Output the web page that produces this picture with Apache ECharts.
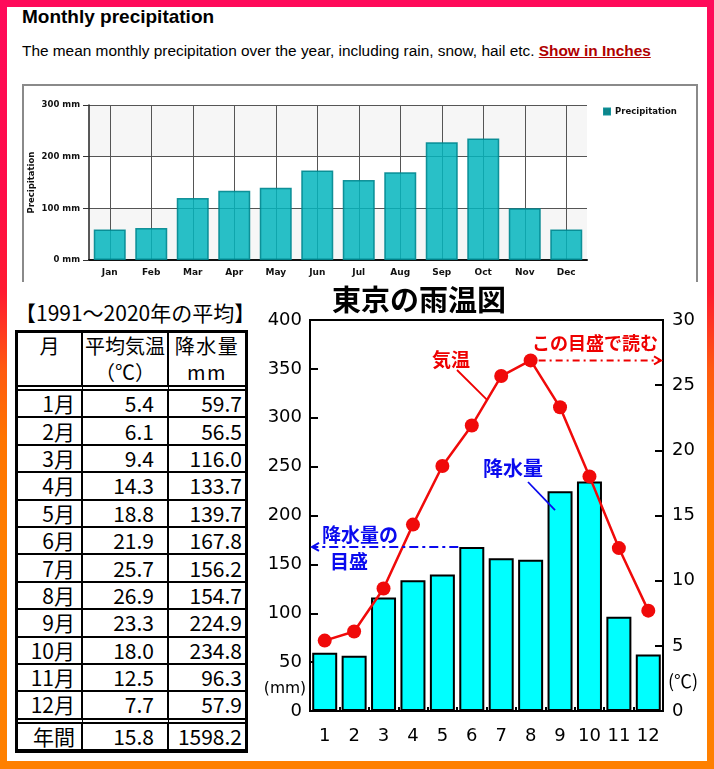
<!DOCTYPE html>
<html><head><meta charset="utf-8">
<script src="https://cdn.jsdelivr.net/npm/echarts@6/dist/echarts.min.js"></script>
<style>
html,body{margin:0;padding:0;}
body{width:714px;height:769px;position:relative;overflow:hidden;
 background:linear-gradient(180deg,#ff0a5a 0%,#ff0c48 25%,#ff1a30 38%,#ff5a10 48%,#ff7400 57%,#ff7d00 70%,#ff8000 100%);}
#inner{position:absolute;left:7px;top:7px;width:700px;height:754px;background:#fff;}
#h1{position:absolute;left:22px;top:6px;font:bold 19px 'Liberation Sans',Arial,sans-serif;color:#000;white-space:nowrap;}
#sub{position:absolute;left:22px;top:42px;font:15.4px 'Liberation Sans',Arial,sans-serif;color:#000;white-space:nowrap;}
#sub a{color:#b00000;font-weight:bold;text-decoration:underline;}
#c1{position:absolute;left:22px;top:84px;width:676px;height:196px;}
#frame{position:absolute;left:22px;top:84px;width:672px;height:196px;border:2px solid #8a8a8a;border-bottom:none;pointer-events:none;}
#c2{position:absolute;left:255px;top:285px;width:452px;height:476px;}
#cap{position:absolute;left:15px;top:300px;font:21px 'Noto Sans CJK JP',sans-serif;line-height:25px;color:#000;white-space:nowrap;}
#tbl{position:absolute;left:15px;top:330px;border:3px solid #000;border-bottom-width:4px;border-collapse:separate;border-spacing:0;font-family:'Noto Sans CJK JP',sans-serif;color:#000;}
#tbl td{box-sizing:border-box;padding:0;border-right:2px solid #000;border-bottom:2px solid #000;height:27.4px;line-height:25px;font-size:21px;text-align:right;vertical-align:middle;white-space:nowrap;overflow:hidden;}
#tbl td.k1{width:65px;padding-right:6px;}
#tbl td.k2{width:86px;padding-right:13px;}
#tbl td.k3{width:76px;padding-right:3px;border-right:none;}
#tbl tr.hd td{height:57px;border-bottom:6px double #000;text-align:center;vertical-align:top;line-height:26px;font-size:20px;padding:0;}
#tbl tr.last td{height:31.4px;border-bottom:6px double #000;}
#tbl tr.tot td{height:25px;border-bottom:none;}
</style>
</head><body>
<div id="inner"></div>
<div id="h1">Monthly precipitation</div>
<div id="sub">The mean monthly precipitation over the year, including rain, snow, hail etc. <a>Show in Inches</a></div>
<div id="c1"></div>
<div id="frame"></div>
<div id="cap">【1991～2020年の平均】</div>
<table id="tbl"></table>
<div id="c2"></div>
<script>
// ---- data ----
const monthsEn = ['Jan','Feb','Mar','Apr','May','Jun','Jul','Aug','Sep','Oct','Nov','Dec'];
const topPrecip = [59, 62, 120, 134, 140, 173, 155, 170, 228, 235, 100, 59];
const monthNums = ['1','2','3','4','5','6','7','8','9','10','11','12'];
const tempC = [5.4, 6.1, 9.4, 14.3, 18.8, 21.9, 25.7, 26.9, 23.3, 18.0, 12.5, 7.7];
const precipMm = [59.7, 56.5, 116.0, 133.7, 139.7, 167.8, 156.2, 154.7, 224.9, 234.8, 96.3, 57.9];
const annualTemp = 15.8;
const annualPrecip = 1598.2;
const tableHead = ['月', '平均気温<br>（℃）', '降水量<br>mm'];

// ---- table ----
(function(){
  let h = '<tr class="hd"><td class="k1">'+tableHead[0]+'</td><td class="k2">'+tableHead[1]+'</td><td class="k3" style="letter-spacing:1.5px">'+tableHead[2]+'</td></tr>';
  for (let i = 0; i < 12; i++) {
    h += '<tr'+(i===11?' class="last"':'')+'><td class="k1">'+(i+1)+'月</td><td class="k2">'+tempC[i].toFixed(1)+'</td><td class="k3">'+precipMm[i].toFixed(1)+'</td></tr>';
  }
  h += '<tr class="tot"><td class="k1">年間</td><td class="k2">'+annualTemp.toFixed(1)+'</td><td class="k3">'+annualPrecip.toFixed(1)+'</td></tr>';
  document.getElementById('tbl').innerHTML = h;
})();

// ---- top chart ----
const small = {fontFamily:'DejaVu Sans', fontWeight:'bold', fontSize:8.5, color:'#111'};
const c1 = echarts.init(document.getElementById('c1'));
c1.setOption({
  animation:false,
  grid:{left:67, top:21, width:498, height:155, outerBoundsMode:'none', containLabel:false},
  legend:{left:581, top:23, padding:0, itemWidth:6, itemHeight:6, icon:'rect', itemGap:4,
    textStyle:Object.assign({}, small, {fontSize:8.5}),
    data:[{name:'Precipitation', itemStyle:{color:'#148589'}}]},
  graphic:[{type:'text', x:10, y:98.5, rotation:Math.PI/2,
    style:{text:'Precipitation', fontFamily:'DejaVu Sans', fontWeight:'bold', fontSize:8.5, fill:'#111', align:'center', verticalAlign:'middle'}}],
  xAxis:{type:'category', data:monthsEn,
    axisLine:{lineStyle:{color:'#111', width:2}},
    axisTick:{alignWithLabel:true, length:5, lineStyle:{color:'#222', width:1}},
    axisLabel:Object.assign({margin:8, interval:0}, small, {fontSize:9}),
    splitLine:{show:true, alignWithLabel:true, lineStyle:{color:'#555', width:1}}},
  yAxis:{type:'value', min:0, max:300, interval:100,
    axisLine:{show:true, lineStyle:{color:'#222', width:1.5}},
    axisTick:{show:true, length:6, lineStyle:{color:'#333', width:1}},
    axisLabel:Object.assign({formatter:'{value} mm', margin:9}, small),
    splitLine:{lineStyle:{color:'#555', width:1}},
    splitArea:{show:true, areaStyle:{color:['#f6f6f6','#ffffff']}}},
  series:[{type:'bar', name:'Precipitation', data:topPrecip, barWidth:32,
    itemStyle:{color:'rgba(4,181,189,0.85)', borderColor:'rgba(0,135,143,0.9)', borderWidth:1.5}}]
});

// ---- bottom chart ----
const big = {fontFamily:'DejaVu Sans', fontSize:18, color:'#000'};
const c2 = echarts.init(document.getElementById('c2'));
const GL = 55, GT = 35, GW = 353, GH = 391;
c2.setOption({
  animation:false,
  grid:{left:GL, top:GT, width:GW, height:GH, show:true, borderColor:'#000', borderWidth:2, backgroundColor:'transparent', outerBoundsMode:'none', containLabel:false},
  xAxis:{type:'category', data:monthNums,
    axisLine:{lineStyle:{color:'#000', width:2}},
    axisTick:{show:true, inside:true, length:4, lineStyle:{color:'#000', width:2}},
    axisLabel:Object.assign({margin:16, interval:0}, big),
    splitLine:{show:false}},
  yAxis:[
    {type:'value', min:0, max:400, interval:50, position:'left',
     axisLine:{show:true, lineStyle:{color:'#000', width:2}},
     axisTick:{show:true, inside:true, length:8, lineStyle:{color:'#000', width:2}},
     axisLabel:Object.assign({margin:8}, big), splitLine:{show:false}},
    {type:'value', min:0, max:30, interval:5, position:'right',
     axisLine:{show:true, lineStyle:{color:'#000', width:2}},
     axisTick:{show:true, inside:true, length:8, lineStyle:{color:'#000', width:2}},
     axisLabel:Object.assign({margin:9}, big), splitLine:{show:false}}
  ],
  series:[
    {type:'bar', data:precipMm, barWidth:25, z:2,
     itemStyle:{color:'#00ffff', borderColor:'#000', borderWidth:2}},
    {type:'line', yAxisIndex:1, data:tempC, z:3, symbol:'circle', symbolSize:14,
     lineStyle:{color:'#f00a0a', width:2.5}, itemStyle:{color:'#f00a0a'}}
  ]
});

// annotations positioned from the data through the chart's scales
(function(){
  const px = (i, v, yi) => c2.convertToPixel({xAxisIndex:0, yAxisIndex:yi}, [i, v]);
  const p6 = px(5, tempC[5], 1), p7 = px(6, tempC[6], 1), p8 = px(7, tempC[7], 1);
  const b6 = px(5, precipMm[5], 0), b9 = px(8, precipMm[8], 0);
  const right = GL + GW, left = GL;
  const red = '#ee0000', blue = '#0a0aee';
  const jp = '"Noto Sans CJK JP", sans-serif';
  const lp = [p6[0] + (p7[0]-p6[0])*0.52, p6[1] + (p7[1]-p6[1])*0.52];
  const ry = p8[1], by = b6[1];
  const bx = b6[0] - 13.5;
  const txt = (x, y, s, size, color, weight) => ({type:'text', x:x, y:y, z:100,
    style:{text:s, fontFamily:jp, fontSize:size, fontWeight:weight||'bold', fill:color, align:'center', verticalAlign:'middle'}});
  c2.setOption({graphic:[
    txt(164, 15, '東京の雨温図', 29, '#000'),
    txt(340, 58, 'この目盛で読む', 18, red),
    txt(196, 75, '気温', 19, red),
    txt(258, 183, '降水量', 20, blue),
    txt(105, 250, '降水量の', 19, blue),
    txt(94, 277, '目盛', 19, blue),
    {type:'text', x:30, y:404, z:100, style:{text:'(mm)', fontFamily:'DejaVu Sans', fontSize:15.5, fill:'#000', align:'center', verticalAlign:'middle'}},
    {type:'text', x:428, y:396, z:100, style:{text:'(℃)', fontFamily:jp, fontSize:18, fill:'#000', align:'center', verticalAlign:'middle'}},
    {type:'line', z:100, shape:{x1:202, y1:85, x2:lp[0], y2:lp[1]}, style:{stroke:red, lineWidth:1.8}},
    {type:'line', z:100, shape:{x1:273, y1:197, x2:b9[0]-5, y2:b9[1]+19}, style:{stroke:blue, lineWidth:1.8}},
    {type:'line', z:100, shape:{x1:p8[0]+8, y1:ry, x2:right-2, y2:ry}, style:{stroke:red, lineWidth:2, lineDash:[7,4,2,4]}},
    {type:'polyline', z:100, shape:{points:[[right-9, ry-4],[right-2, ry],[right-9, ry+4]]}, style:{stroke:red, lineWidth:2, fill:null}},
    {type:'line', z:100, shape:{x1:bx, y1:by, x2:left+2, y2:by}, style:{stroke:blue, lineWidth:2, lineDash:[9,4,3,4]}},
    {type:'polyline', z:100, shape:{points:[[left+9, by-4],[left+2, by],[left+9, by+4]]}, style:{stroke:blue, lineWidth:2, fill:null}}
  ]});
})();
</script>
</body></html>
